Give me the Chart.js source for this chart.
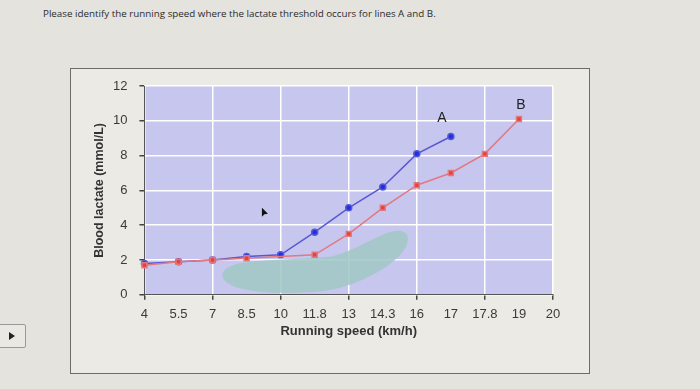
<!DOCTYPE html>
<html>
<head>
<meta charset="utf-8">
<script src="https://cdn.jsdelivr.net/npm/chart.js@4"></script>
<style>
  html, body { margin: 0; padding: 0; }
  body { width: 700px; height: 389px; background: #e4e3de; position: relative; overflow: hidden; font-family: "Open Sans", sans-serif; }
  #question { position: absolute; left: 43px; top: 7px; font-size: 9.8px; color: #2b2b2b; white-space: nowrap; }
  #frame { position: absolute; left: 70px; top: 68px; width: 518px; height: 304px; border: 1.5px solid #6c6c68; background: #ebeae5; }
  #play { position: absolute; left: -2px; top: 324px; width: 26px; height: 22px; border: 1px solid #999; border-radius: 2px; background: #e9e8e3; }
  #play:after { content: ""; position: absolute; left: 10px; top: 7px; border-left: 6px solid #222; border-top: 4px solid transparent; border-bottom: 4px solid transparent; }
  #wrap { position: absolute; left: 0; top: 0; width: 700px; height: 389px; }
</style>
</head>
<body>
<div id="question">Please identify the running speed where the lactate threshold occurs for lines A and B.</div>
<div id="frame"></div>
<div id="play"></div>
<div id="wrap"><canvas id="chart"></canvas></div>
<script>
const speeds = ['4', '5.5', '7', '8.5', '10', '11.8', '13', '14.3', '16', '17', '17.8', '19', '20'];
const lineA = [1.8, 1.9, 2.0, 2.2, 2.3, 3.6, 5.0, 6.2, 8.1, 9.1, null, null, null];
const lineB = [1.7, 1.9, 2.0, 2.1, 2.2, 2.3, 3.5, 5.0, 6.3, 7.0, 8.1, 10.1, null];

const plotBg = {
    id: 'plotBg',
    beforeDraw(chart) {
        const { ctx, chartArea: a } = chart;
        ctx.save();
        ctx.fillStyle = '#c6c6ef';
        ctx.fillRect(a.left, a.top, a.right - a.left, a.bottom - a.top);
        ctx.restore();
    }
};

// teal highlight smudge and mouse pointer from the photo
const marks = {
    id: 'marks',
    beforeDatasetsDraw(chart) {
        const { ctx, scales: { x, y } } = chart;
        ctx.save();
        ctx.fillStyle = 'rgba(160, 200, 196, 0.85)';
        ctx.beginPath();
        ctx.moveTo(x.getPixelForValue(2.3), y.getPixelForValue(1.0));
        ctx.bezierCurveTo(x.getPixelForValue(2.2), y.getPixelForValue(2.2), x.getPixelForValue(4), y.getPixelForValue(1.9), x.getPixelForValue(5.5), y.getPixelForValue(2.2));
        ctx.bezierCurveTo(x.getPixelForValue(6.5), y.getPixelForValue(2.7), x.getPixelForValue(7.3), y.getPixelForValue(4.2), x.getPixelForValue(7.7), y.getPixelForValue(3.5));
        ctx.bezierCurveTo(x.getPixelForValue(8.0), y.getPixelForValue(2.4), x.getPixelForValue(6.5), y.getPixelForValue(0.5), x.getPixelForValue(5.2), y.getPixelForValue(0.2));
        ctx.bezierCurveTo(x.getPixelForValue(4), y.getPixelForValue(0.0), x.getPixelForValue(2.5), y.getPixelForValue(0.1), x.getPixelForValue(2.3), y.getPixelForValue(1.0));
        ctx.fill();
        const px = x.getPixelForValue(3.45), py = y.getPixelForValue(5.0);
        ctx.fillStyle = '#111';
        ctx.beginPath();
        ctx.moveTo(px, py);
        ctx.lineTo(px, py + 9);
        ctx.lineTo(px + 2.5, py + 6.5);
        ctx.lineTo(px + 6, py + 6);
        ctx.closePath();
        ctx.fill();
        ctx.restore();
    },
    afterDatasetsDraw(chart) {
        const { ctx } = chart;
        ctx.save();
        ctx.fillStyle = '#222';
        ctx.font = '14px "Liberation Sans", Arial, sans-serif';
        ctx.textAlign = 'center';
        const a = chart.getDatasetMeta(0).data[9];
        const b = chart.getDatasetMeta(1).data[11];
        ctx.fillText('A', a.x - 9, a.y - 14);
        ctx.fillText('B', b.x + 2, b.y - 10);
        ctx.restore();
    }
};

new Chart(document.getElementById('chart'), {
    type: 'line',
    data: {
        labels: speeds,
        datasets: [{
            label: 'A',
            data: lineA,
            borderColor: '#5858d0',
            backgroundColor: '#1f2ee8',
            borderWidth: 1.5,
            pointStyle: 'circle',
            pointRadius: 3,
            order: 2
        }, {
            label: 'B',
            data: lineB,
            borderColor: '#e27880',
            backgroundColor: '#e8403a',
            borderWidth: 1.5,
            pointStyle: 'rect',
            pointRadius: ctx => ctx.dataIndex === 4 ? 0 : 3.5,
            order: 1
        }]
    },
    options: {
        responsive: true,
        maintainAspectRatio: false,
        animation: false,
        layout: { padding: { left: 92, top: 86, right: 147, bottom: 50 } },
        plugins: {
            legend: { display: false },
            tooltip: { enabled: false }
        },
        scales: {
            x: {
                offset: false,
                grid: {
                    color: ctx => ctx.index % 2 === 0 ? '#ffffff' : 'rgba(0,0,0,0)',
                    tickColor: ctx => ctx.index % 2 === 0 ? '#444' : 'rgba(0,0,0,0)',
                    lineWidth: 1.5,
                    tickLength: 5
                },
                border: { color: '#555', width: 1 },
                ticks: {
                    autoSkip: false,
                    maxRotation: 0,
                    color: '#3a3a3a',
                    padding: 7,
                    font: { family: '"Liberation Sans", Arial, sans-serif', size: 13 }
                },
                title: {
                    display: true,
                    text: 'Running speed (km/h)',
                    color: '#333',
                    padding: { top: -6, bottom: 0 },
                    font: { family: '"Liberation Sans", Arial, sans-serif', size: 13, weight: 'bold' }
                }
            },
            y: {
                min: 0,
                max: 12,
                ticks: {
                    stepSize: 2,
                    color: '#3a3a3a',
                    padding: 12,
                    font: { family: '"Liberation Sans", Arial, sans-serif', size: 13 }
                },
                grid: {
                    color: '#ffffff',
                    lineWidth: 1.5,
                    tickColor: '#444',
                    tickLength: 5
                },
                border: { color: '#555', width: 1 },
                title: {
                    display: true,
                    text: 'Blood lactate (mmol/L)',
                    color: '#333',
                    padding: { top: 0, bottom: -6 },
                    font: { family: '"Liberation Sans", Arial, sans-serif', size: 12.5, weight: 'bold' }
                }
            }
        }
    },
    plugins: [plotBg, marks]
});
</script>
</body>
</html>
